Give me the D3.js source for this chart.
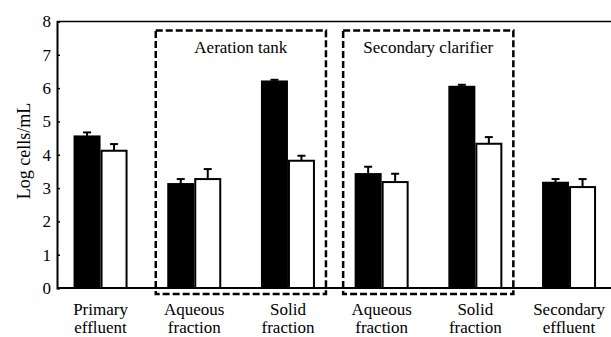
<!DOCTYPE html>
<html><head><meta charset="utf-8">
<script src="https://cdn.jsdelivr.net/npm/d3@7"></script>
<style>body{margin:0;background:#fff}svg{display:block}</style>
</head><body><svg id="c" width="611" height="337"></svg>
<script>
const categories = [["Primary","effluent"],["Aqueous","fraction"],["Solid","fraction"],["Aqueous","fraction"],["Solid","fraction"],["Secondary","effluent"]];
const blackValues = [4.55, 3.12, 6.2, 3.42, 6.04, 3.16];
const blackErrors = [0.12, 0.15, 0.05, 0.22, 0.06, 0.11];
const whiteValues = [4.12, 3.27, 3.82, 3.18, 4.33, 3.03];
const whiteErrors = [0.2, 0.3, 0.15, 0.25, 0.2, 0.24];
const yTicks = [0,1,2,3,4,5,6,7,8];
const boxes = [{label:"Aeration tank", from:1, to:2},{label:"Secondary clarifier", from:3, to:4}];

const FONT = "Liberation Serif";
const svg = d3.select("#c");
const x = d3.scaleBand().domain(d3.range(categories.length)).range([53.7, 615.9]).paddingInner(0).paddingOuter(0);
const y = d3.scaleLinear().domain([0,8]).range([288,21.5]);
const barW = 27;
const axisX = 57;

svg.append("line").attr("x1",axisX).attr("x2",611).attr("y1",y(8)).attr("y2",y(8)).attr("stroke","#000").attr("stroke-width",1.5);

const yAxis = svg.append("g").attr("transform",`translate(${axisX},0)`)
  .call(d3.axisLeft(y).tickValues(yTicks).tickSize(-3).tickPadding(6).tickFormat(d3.format("d")));
yAxis.select(".domain").attr("stroke-width",2);
yAxis.selectAll(".tick line").attr("stroke-width",1.5);
yAxis.selectAll("text").style("font-family",FONT).style("font-size","17px").style("fill","#000");

svg.append("text").attr("transform",`translate(29.5,151) rotate(-90)`).attr("text-anchor","middle")
  .style("font-family",FONT).style("font-size","18px").text("Log cells/mL");

const series = [
  {vals:blackValues, errs:blackErrors, fill:"#000", off:-barW},
  {vals:whiteValues, errs:whiteErrors, fill:"#fff", off:0}
];
series.forEach(s=>{
  const g = svg.append("g");
  s.vals.forEach((v,i)=>{
    const cx = x(i)+x.bandwidth()/2 + s.off;
    const ex = cx + barW/2;
    g.append("line").attr("x1",ex).attr("x2",ex).attr("y1",y(v)).attr("y2",y(v+s.errs[i])).attr("stroke","#000").attr("stroke-width",2);
    g.append("line").attr("x1",ex-4).attr("x2",ex+4).attr("y1",y(v+s.errs[i])).attr("y2",y(v+s.errs[i])).attr("stroke","#000").attr("stroke-width",2);
    g.append("rect").attr("x",cx+1).attr("y",y(v)).attr("width",barW-2).attr("height",y(0)-y(v))
      .attr("fill",s.fill).attr("stroke","#000").attr("stroke-width",2);
  });
});

svg.append("line").attr("x1",axisX).attr("x2",611).attr("y1",y(0)).attr("y2",y(0)).attr("stroke","#000").attr("stroke-width",2);

categories.forEach((c,i)=>{
  const cx = x(i)+x.bandwidth()/2;
  const t = svg.append("text").attr("x",cx).attr("y",314.5).attr("text-anchor","middle")
    .style("font-family",FONT).style("font-size","17px");
  t.append("tspan").attr("x",cx).text(c[0]);
  t.append("tspan").attr("x",cx).attr("dy",18.5).text(c[1]);
});

boxes.forEach(b=>{
  const left = x(b.from)+x.bandwidth()/2 - 38.5;
  const right = x(b.to)+x.bandwidth()/2 + 38;
  svg.append("rect").attr("x",left).attr("y",30.5).attr("width",right-left).attr("height",294-30.5)
    .attr("fill","none").attr("stroke","#000").attr("stroke-width",2.5).attr("stroke-dasharray","7,3");
  svg.append("text").attr("x",(left+right)/2).attr("y",53).attr("text-anchor","middle")
    .style("font-family",FONT).style("font-size","17px").text(b.label);
});
</script></body></html>
